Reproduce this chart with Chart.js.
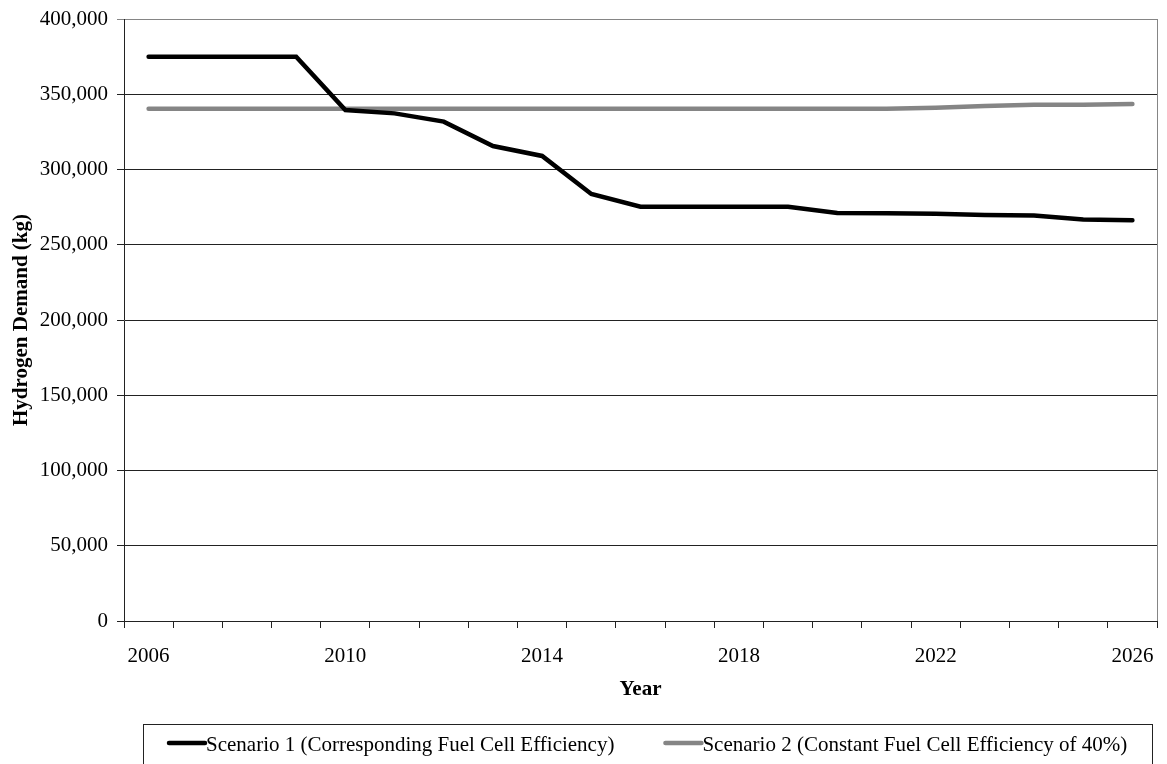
<!DOCTYPE html>
<html>
<head>
<meta charset="utf-8">
<script src="https://cdn.jsdelivr.net/npm/chart.js@4"></script>
<style>
    body { margin: 0; background: #fff; }
    #wrap { width: 1167px; height: 764px; }
</style>
</head>
<body>
<div id="wrap"><canvas id="demandChart" width="1167" height="764"></canvas></div>
<script>
const years = ['2006', '2007', '2008', '2009', '2010', '2011', '2012', '2013', '2014', '2015', '2016',
    '2017', '2018', '2019', '2020', '2021', '2022', '2023', '2024', '2025', '2026'];
const scenario1 = [375000, 375000, 375000, 375000, 339500, 337300, 331800, 315600, 309000, 283700, 275300,
    275300, 275300, 275300, 271100, 271000, 270600, 269800, 269500, 266700, 266300];
const scenario2 = [340400, 340400, 340400, 340400, 340400, 340400, 340400, 340400, 340400, 340400, 340400,
    340400, 340400, 340400, 340400, 340400, 341100, 342200, 343000, 343000, 343500];
const seriesNames = ['Scenario 1 (Corresponding Fuel Cell Efficiency)', 'Scenario 2 (Constant Fuel Cell Efficiency of 40%)'];
const yTicks = [0, 50000, 100000, 150000, 200000, 250000, 300000, 350000, 400000];

const serif = "'Liberation Serif', 'Times New Roman', serif";
const black = '#000000';
const gray = '#858585';

// border on the right side of the plot + framed legend under the axis title
const framePlugin = {
    id: 'frame',
    afterDraw(chart) {
        const ctx = chart.ctx;
        const area = chart.chartArea;
        ctx.save();
        ctx.strokeStyle = gray;
        ctx.lineWidth = 1;
        ctx.beginPath();
        ctx.moveTo(Math.round(area.right) + 0.5, area.top);
        ctx.lineTo(Math.round(area.right) + 0.5, area.bottom);
        ctx.stroke();

        // legend
        ctx.strokeStyle = '#222';
        ctx.strokeRect(143.5, 724.5, 1009, 60);
        ctx.font = '21px ' + serif;
        ctx.textBaseline = 'middle';
        ctx.fillStyle = '#000';
        let x = 169;
        const y = 745;
        chart.data.datasets.forEach((ds) => {
            ctx.strokeStyle = ds.borderColor;
            ctx.lineWidth = 4.5;
            ctx.lineCap = 'round';
            ctx.beginPath();
            ctx.moveTo(x, y - 2);
            ctx.lineTo(x + 36, y - 2);
            ctx.stroke();
            x += 37;
            ctx.fillText(ds.label, x, y);
            x += ctx.measureText(ds.label).width + 51;
        });
        ctx.restore();
    }
};

const demandChart = new Chart(document.getElementById('demandChart'), {
    type: 'line',
    data: {
        labels: years,
        datasets: [
            {
                label: seriesNames[0],
                data: scenario1,
                borderColor: black,
                backgroundColor: black,
                borderWidth: 4.5,
                borderCapStyle: 'round',
                pointRadius: 0,
                tension: 0
            },
            {
                label: seriesNames[1],
                data: scenario2,
                borderColor: gray,
                backgroundColor: gray,
                borderWidth: 4.5,
                borderCapStyle: 'round',
                pointRadius: 0,
                tension: 0
            }
        ]
    },
    options: {
        responsive: false,
        animation: false,
        devicePixelRatio: 1,
        layout: { padding: { left: 0, right: 10, top: 19, bottom: 62 } },
        plugins: {
            legend: { display: false },
            tooltip: { enabled: false }
        },
        scales: {
            x: {
                type: 'category',
                offset: true,
                grid: {
                    offset: true,
                    drawOnChartArea: false,
                    drawTicks: true,
                    tickLength: 7,
                    color: '#222'
                },
                border: { color: '#222', width: 1 },
                ticks: {
                    autoSkip: false,
                    maxRotation: 0,
                    padding: 16,
                    color: '#000',
                    font: { family: serif, size: 21 },
                    callback: (val, i) => (i % 4 === 0 ? years[i] : '')
                },
                title: {
                    display: true,
                    text: 'Year',
                    color: '#000',
                    padding: { top: 0, bottom: 0 },
                    font: { family: serif, size: 21, weight: 'bold' }
                },
                afterFit: (scale) => {
                    scale.height = 81;
                    scale.paddingLeft = 0;
                    scale.paddingRight = 0;
                }
            },
            y: {
                min: 0,
                max: 400000,
                afterBuildTicks: (scale) => { scale.ticks = yTicks.map(v => ({ value: v })); },
                grid: {
                    tickLength: 7,
                    color: (c) => (c.tick && c.tick.value === 400000 ? gray : '#222')
                },
                border: { color: '#222', width: 1 },
                ticks: {
                    padding: 9,
                    color: '#000',
                    font: { family: serif, size: 21 },
                    callback: (v) => v.toLocaleString('en-US')
                },
                title: {
                    display: true,
                    text: 'Hydrogen Demand (kg)',
                    color: '#000',
                    padding: { top: 9, bottom: 0 },
                    font: { family: serif, size: 21, weight: 'bold' }
                },
                afterFit: (scale) => {
                    scale.width = 124;
                    scale.paddingTop = 0;
                    scale.paddingBottom = 0;
                }
            }
        }
    },
    plugins: [framePlugin]
});
</script>
</body>
</html>
